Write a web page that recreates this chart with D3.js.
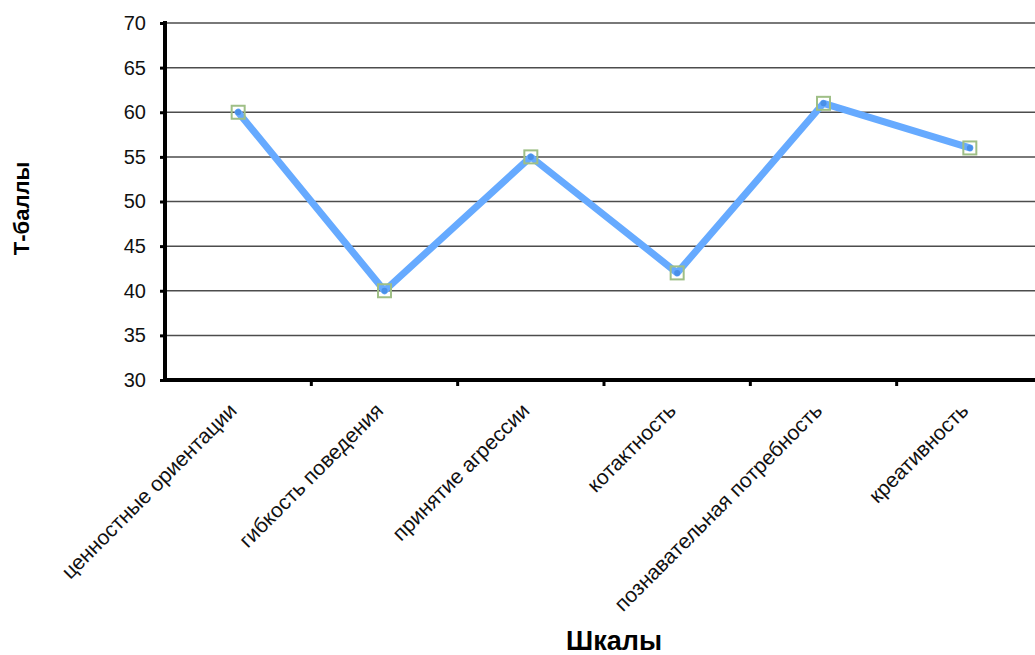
<!DOCTYPE html>
<html>
<head>
<meta charset="utf-8">
<script src="https://cdn.jsdelivr.net/npm/d3@7/dist/d3.min.js"></script>
<style>
  body { margin: 0; background: #fff; }
  text { font-family: "Liberation Sans", Arial, sans-serif; }
</style>
</head>
<body>
<div id="chart"></div>
<script>
const categories = ["ценностные ориентации", "гибкость поведения", "принятие агрессии",
    "котактность", "познавательная потребность", "креативность"];
const values = [60, 40, 55, 42, 61, 56];
const yTicks = [30, 35, 40, 45, 50, 55, 60, 65, 70];

const W = 1035, H = 655;
const margin = { top: 23, right: -8, bottom: 275, left: 165 },
    width = W - margin.left - margin.right,
    height = H - margin.top - margin.bottom;

const svg = d3.select("#chart")
    .append("svg")
    .attr("width", W)
    .attr("height", H);

const g = svg.append("g")
    .attr("transform", "translate(" + margin.left + "," + margin.top + ")");

const x = d3.scaleBand()
    .domain(categories)
    .range([0, width]);

const y = d3.scaleLinear()
    .domain([30, 70])
    .range([height, 0]);

// grid lines
g.append("g")
    .selectAll("line")
    .data(yTicks.slice(1))
    .enter()
    .append("line")
    .attr("x1", 0)
    .attr("x2", width)
    .attr("y1", d => y(d))
    .attr("y2", d => y(d))
    .attr("stroke", "#4d4d4d")
    .attr("stroke-width", 1.5);

// y axis
const yAxis = g.append("g")
    .call(d3.axisLeft(y).tickValues(yTicks).tickSize(5).tickPadding(14));
yAxis.select(".domain").remove();
yAxis.selectAll(".tick line").attr("stroke", "#000").attr("stroke-width", 3);
yAxis.selectAll(".tick text")
    .style("font-size", "20px")
    .attr("fill", "#111");
g.append("line")
    .attr("x1", 0).attr("x2", 0)
    .attr("y1", -2).attr("y2", height + 2)
    .attr("stroke", "#000").attr("stroke-width", 4);

// x axis
const xAxis = g.append("g")
    .attr("transform", "translate(0," + height + ")");
xAxis.append("line")
    .attr("x1", 0).attr("x2", width)
    .attr("y1", 0).attr("y2", 0)
    .attr("stroke", "#000").attr("stroke-width", 4);
xAxis.selectAll(".xtick")
    .data(categories.slice(1))
    .enter()
    .append("line")
    .attr("x1", d => x(d)).attr("x2", d => x(d))
    .attr("y1", 0).attr("y2", 6)
    .attr("stroke", "#000").attr("stroke-width", 3);
xAxis.selectAll(".xlabel")
    .data(categories)
    .enter()
    .append("text")
    .attr("transform", d => "translate(" + (x(d) + x.bandwidth() / 2) + ",32) rotate(-45)")
    .attr("text-anchor", "end")
    .style("font-size", "21px")
    .attr("fill", "#111")
    .text(d => d);

// line
const line = d3.line()
    .x((d, i) => x(categories[i]) + x.bandwidth() / 2)
    .y(d => y(d));

g.append("path")
    .datum(values)
    .attr("d", line)
    .attr("fill", "none")
    .attr("stroke", "#66aaff")
    .attr("stroke-width", 7)
    .attr("stroke-linejoin", "round")
    .attr("stroke-linecap", "round");

// markers
const pts = g.append("g")
    .selectAll("g")
    .data(values)
    .enter()
    .append("g")
    .attr("transform", (d, i) => "translate(" + (x(categories[i]) + x.bandwidth() / 2) + "," + y(d) + ")");
pts.append("rect")
    .attr("x", -6.5).attr("y", -6.5)
    .attr("width", 13).attr("height", 13)
    .attr("fill", "none")
    .attr("stroke", "#9fbf86")
    .attr("stroke-width", 2);
pts.append("circle")
    .attr("r", 3)
    .attr("fill", "#4a90e8");

// titles
svg.append("text")
    .attr("transform", "translate(29," + (margin.top + height / 2 + 7) + ") rotate(-90)")
    .attr("text-anchor", "middle")
    .style("font-size", "22px")
    .style("font-weight", "bold")
    .text("Т-баллы");

svg.append("text")
    .attr("x", 614)
    .attr("y", 650)
    .attr("text-anchor", "middle")
    .style("font-size", "27px")
    .style("font-weight", "bold")
    .text("Шкалы");
</script>
</body>
</html>
